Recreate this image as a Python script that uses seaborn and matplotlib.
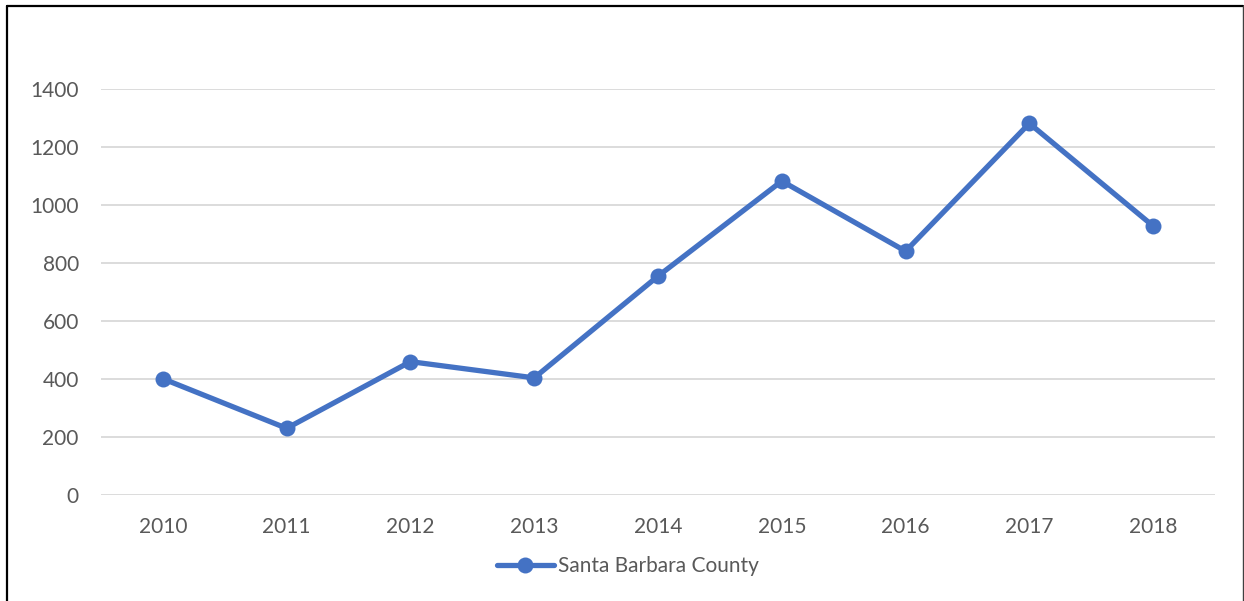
import matplotlib
matplotlib.use("Agg")
import matplotlib.pyplot as plt
from matplotlib.lines import Line2D
import seaborn as sns
import pandas as pd

# data
years = ["2010", "2011", "2012", "2013", "2014", "2015", "2016", "2017", "2018"]
values = [400, 229, 459, 403, 754, 1082, 840, 1281, 927]
series_name = "Santa Barbara County"
y_ticks = [0, 200, 400, 600, 800, 1000, 1200, 1400]

LINE_COLOR = "#4472C4"
TEXT_COLOR = "#595959"
GRID_COLOR = "#D9D9D9"
FONT_SIZE = 15

sns.set_style("white")
plt.rcParams['font.family'] = ['Lato', 'DejaVu Sans']

df = pd.DataFrame({"year": years, "value": values})

fig = plt.figure(figsize=(12.44, 6.01), dpi=100)
ax = fig.add_axes([0.0812, 0.1769, 0.8955, 0.6752])

sns.lineplot(data=df, x="year", y="value", ax=ax, color=LINE_COLOR,
             linewidth=3.8, marker="o", markersize=11.5, markeredgewidth=0,
             label=series_name, legend=False)

ax.set_xlim(-0.5, len(years) - 0.5)
ax.set_ylim(0, 1400)
ax.set_yticks(y_ticks)
ax.set_yticklabels([str(t) for t in y_ticks])
ax.set_xlabel("")
ax.set_ylabel("")
ax.grid(axis="y", color=GRID_COLOR, linewidth=1.3)
ax.set_axisbelow(True)
for s in ax.spines.values():
    s.set_visible(False)
ax.tick_params(axis="both", length=0, labelsize=FONT_SIZE, labelcolor=TEXT_COLOR)
ax.tick_params(axis="x", pad=16)
ax.tick_params(axis="y", pad=16)

# legend below the plot
handles, labels = ax.get_legend_handles_labels()
leg = fig.legend(handles, labels, loc="center", bbox_to_anchor=(628 / 1244, 1 - 566 / 601),
                 frameon=False, fontsize=FONT_SIZE, handlelength=2.7, handletextpad=0.2,
                 labelcolor=TEXT_COLOR)

# chart border (bottom edge is cut off in the reference)
fig.add_artist(Line2D([6.5 / 1244, 6.5 / 1244], [0, 1 - 5.5 / 601], color="black", linewidth=1.6,
                      transform=fig.transFigure))
fig.add_artist(Line2D([6.5 / 1244, 1243 / 1244], [1 - 5.5 / 601, 1 - 5.5 / 601], color="black",
                      linewidth=1.6, transform=fig.transFigure))
fig.add_artist(Line2D([1243 / 1244, 1243 / 1244], [0, 1 - 5.5 / 601], color="#404040", linewidth=1.0,
                      transform=fig.transFigure))

fig.savefig("out.png", dpi=100)
